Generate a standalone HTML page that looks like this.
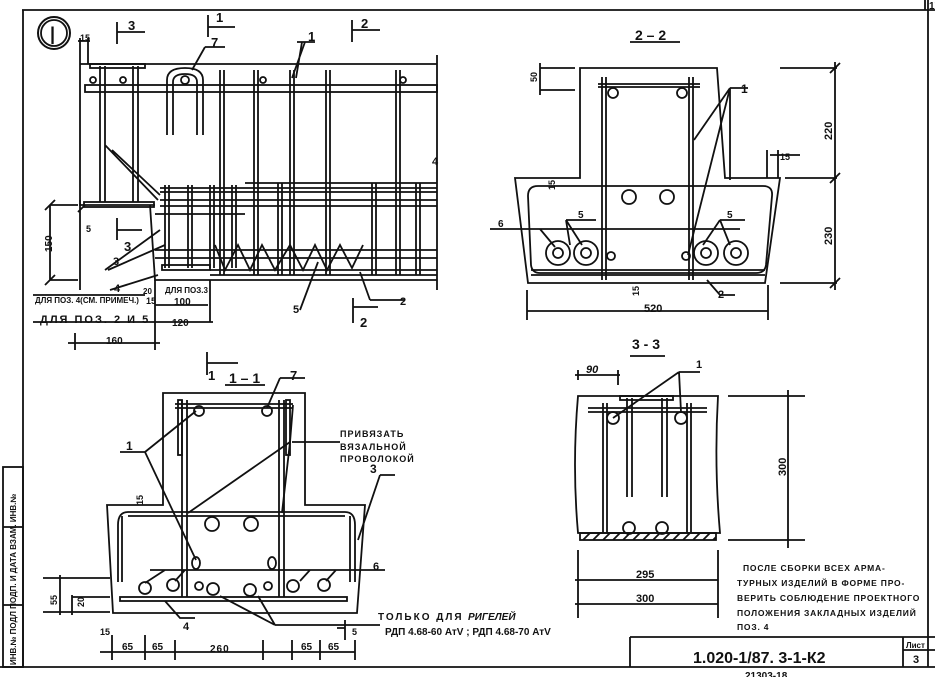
<!DOCTYPE html>
<html><head><meta charset="utf-8"><style>
html,body{margin:0;padding:0;background:#fff}
svg{display:block}
text{font-family:"Liberation Sans Narrow","Liberation Sans","DejaVu Sans",sans-serif;fill:#111;font-weight:bold}
</style></head><body>
<svg width="935" height="677" viewBox="0 0 935 677" xmlns="http://www.w3.org/2000/svg">
<g stroke="#111" stroke-width="1.8" fill="none">
<!-- frame -->
<line x1="22" y1="10" x2="935" y2="10"/>
<line x1="23" y1="10" x2="23" y2="667"/>
<line x1="0" y1="667" x2="935" y2="667"/>
<line x1="928" y1="0" x2="928" y2="667"/>
<line x1="925" y1="0" x2="925" y2="10"/>
<rect x="3" y="467" width="20" height="200"/>
<line x1="3" y1="527" x2="23" y2="527"/><line x1="3" y1="605" x2="23" y2="605"/>

<!-- ELEVATION -->
<circle cx="54" cy="33" r="16" stroke-width="2"/><circle cx="54" cy="33" r="13"/>
<path d="M117 22v22M117 32h28M208 15v22M208 27h27M352 20v22M352 30h28M117 218v22M117 230h25M353 298v25M353 307h25"/>
<path d="M80 64H437M437 55V290M80 64V205H155M150 205L155 280H437"/>
<rect x="85" y="85" width="352" height="7"/>
<rect x="90" y="64" width="55" height="4"/>
<path d="M100 66V202M105 66V202M133 66V202M138 66V202M105 145L158 200M112 150L160 195"/>
<path d="M167 135V80Q167 68 185 68Q203 68 203 80V135M173 135V82Q173 74 185 74Q197 74 197 82V135"/>
<circle cx="185" cy="80" r="4"/><circle cx="93" cy="80" r="3"/><circle cx="123" cy="80" r="3"/><circle cx="263" cy="80" r="3"/><circle cx="403" cy="80" r="3"/>
<path d="M220 70V275M224 70V275M254 70V275M258 70V275M290 70V275M294 70V275M326 70V275M330 70V275M396 70V275M400 70V275"/>
<rect x="84" y="202" width="70" height="5"/>
<path d="M160 188H437M160 192H437M245 183H437M160 200H437M160 206H437M155 214H245M155 250H437M155 258H437M210 270H437M210 275H437"/>
<path d="M165 185V268M169 185V268M188 185V268M192 185V268M210 185V268M214 185V268M232 185V268M236 185V268M278 183V275M282 183V275M372 183V275M376 183V275M416 183V275M420 183V275"/>
<path d="M215 245L225 270L238 245L250 270L262 245L275 270L290 245L303 270L315 245L327 270L340 245L352 268L363 245"/>
<rect x="162" y="265" width="48" height="5"/>
<path d="M297 42H315M305 42L292 78M302 42L296 78M205 47H225M205 47L192 70M105 270L160 230M108 270L165 245M110 290L158 275M300 310L318 262M370 300L360 272M370 300H405"/>
<path d="M78 41H90M80 38V64M88 38V64M80 205V290M80 235V200M50 205H78M50 280H78M50 205V280M45 210L55 200M45 285L55 275M78 212L85 205"/>
<path d="M33 295H145M33 322H155M68 343H160M155 280V345M210 280V322M155 305H208M155 322H213M75 333V350M155 333V350"/>

<!-- SECTION 2-2 -->
<line x1="630" y1="42" x2="680" y2="42"/>
<path d="M580 68H717L725 178H780L765 283H528L515 178H580Z"/>
<path d="M538 186H763Q773 186 772 196L766 265Q765 273 756 273H540Q532 273 531 265L528 196Q528 186 538 186Z"/>
<path d="M531 270H765M531 275H765"/>
<path d="M602 77V280M606 77V280M689 77V280M693 77V280M598 84H700M598 87H700"/>
<circle cx="613" cy="93" r="5"/><circle cx="682" cy="93" r="5"/>
<circle cx="629" cy="197" r="7"/><circle cx="667" cy="197" r="7"/>
<circle cx="558" cy="253" r="12"/><circle cx="558" cy="253" r="5"/>
<circle cx="586" cy="253" r="12"/><circle cx="586" cy="253" r="5"/>
<circle cx="706" cy="253" r="12"/><circle cx="706" cy="253" r="5"/>
<circle cx="736" cy="253" r="12"/><circle cx="736" cy="253" r="5"/>
<circle cx="611" cy="256" r="4"/><circle cx="686" cy="256" r="4"/>
<path d="M490 229H740M540 229L555 247M566 220H596M566 220L570 245M566 220L582 245M720 220H745M720 220L703 245M720 220L730 245M730 88H748M730 88L694 140M730 88L688 255M730 88L730 180M707 280L720 295H735"/>
<path d="M540 68H575M540 90H575M540 63V95M837 68H780M837 178H785M837 283H780M835 62V290M830 73L840 63M830 183L840 173M830 288L840 278M527 311H768M527 290V320M768 285V320M767 150V178M778 150V178M770 155H800"/>

<!-- SECTION 1-1 -->
<path d="M207 352V375M207 363H238M225 385H265"/>
<path d="M163 393H305V505H365L357 613H113L107 505H163Z"/>
<path d="M182 400V597M187 400V597M279 400V597M284 400V597M175 404H293M175 408H293"/>
<rect x="178" y="400" width="4" height="55"/><rect x="286" y="400" width="4" height="55"/>
<circle cx="199" cy="411" r="5"/><circle cx="267" cy="411" r="5"/>
<path d="M128 512H345M128 516H345M128 512Q118 512 118 525V582M345 512Q355 512 355 525V582M122 516Q122 520 122 582M350 516V582"/>
<circle cx="212" cy="524" r="7"/><circle cx="251" cy="524" r="7"/>
<ellipse cx="196" cy="563" rx="4" ry="6"/><ellipse cx="272" cy="563" rx="4" ry="6"/>
<circle cx="145" cy="588" r="6"/><circle cx="173" cy="585" r="6"/><circle cx="199" cy="586" r="4"/><circle cx="213" cy="589" r="6"/><circle cx="250" cy="590" r="6"/><circle cx="268" cy="586" r="4"/><circle cx="293" cy="586" r="6"/><circle cx="324" cy="585" r="6"/>
<rect x="120" y="597" width="227" height="4"/>
<path d="M120 452H145M145 452L196 411M145 452L196 560M292 442H340M290 442L293 405M290 442L188 513M290 442L282 513M380 475L358 540M380 475H395M150 570H385M145 583L165 570M175 581L185 570M300 581L310 570M326 581L336 570M165 601L180 618H195M220 596L275 625M258 596L275 625M275 625H380M280 378H305M280 378L267 408"/>
<path d="M43 578H110M43 612H110M60 575V615M72 597H110M72 595V615M100 652H355M112 635V660M145 635V660M175 640V660M263 640V660M292 640V660M320 640V660M355 640V660M337 628H345M345 620V640"/>

<!-- SECTION 3-3 -->
<line x1="630" y1="356" x2="665" y2="356"/>
<path d="M578 396H718Q714 465 720 533H578Q572 465 578 396Z"/>
<rect x="580" y="533" width="136" height="7"/>
<path d="M583 540L590 533M593 540L600 533M603 540L610 533M613 540L620 533M623 540L630 533M633 540L640 533M643 540L650 533M653 540L660 533M663 540L670 533M673 540L680 533M683 540L690 533M693 540L700 533M703 540L710 533M713 540L716 537"/>
<rect x="620" y="396" width="53" height="4"/>
<path d="M588 408H707M588 412H707M603 403V533M607 403V533M627 398V497M632 398V497M662 398V497M667 398V497M687 403V533M691 403V533"/>
<circle cx="613" cy="418" r="6"/><circle cx="681" cy="418" r="6"/><circle cx="629" cy="528" r="6"/><circle cx="662" cy="528" r="6"/>
<path d="M679 372H700M679 372L613 418M679 372L681 412M575 375H620M578 370V380M618 370V385M728 396H805M728 540H805M788 390V548M575 580H718M575 604H718M578 550V618M718 550V618"/>

<path d="M630 637H935M630 637V667M903 637V667M903 650H935"/>
</g>

<g font-size="13">
<text x="50" y="40" font-size="18" font-weight="normal">|</text>
<text x="128" y="30">3</text><text x="216" y="22">1</text><text x="361" y="28">2</text>
<text x="124" y="251">3</text><text x="360" y="327">2</text><text x="208" y="380">1</text>
<text x="211" y="47">7</text><text x="308" y="41">1</text>
<text x="113" y="265" font-size="11">3</text><text x="114" y="292" font-size="11">4</text>
<text x="293" y="313" font-size="11">5</text><text x="400" y="305" font-size="11">2</text>
<text x="432" y="165" font-size="11" font-weight="normal">4</text>
<text x="80" y="41" font-size="9">15</text><text x="86" y="232" font-size="9">5</text>
<text x="52" y="252" font-size="10" transform="rotate(-90 52 252)">150</text>
<text x="35" y="303" font-size="8">ДЛЯ ПОЗ. 4(СМ. ПРИМЕЧ.)</text>
<text x="143" y="294" font-size="8">20</text><text x="165" y="293" font-size="8">ДЛЯ ПОЗ.3</text>
<text x="146" y="304" font-size="9">15</text><text x="174" y="305" font-size="10">100</text>
<text x="40" y="323" font-size="11" letter-spacing="2">ДЛЯ  ПОЗ. 2 И 5</text>
<text x="172" y="326" font-size="10">120</text><text x="106" y="344" font-size="10">160</text>

<text x="635" y="40" font-size="14" font-weight="normal">2 – 2</text>
<text x="537" y="82" font-size="9" transform="rotate(-90 537 82)">50</text>
<text x="741" y="93" font-size="12">1</text>
<text x="555" y="190" font-size="9" transform="rotate(-90 555 190)">15</text>
<text x="780" y="160" font-size="9">15</text>
<text x="832" y="140" font-size="11" transform="rotate(-90 832 140)" font-weight="normal">220</text>
<text x="832" y="245" font-size="11" transform="rotate(-90 832 245)" font-weight="normal">230</text>
<text x="498" y="227" font-size="10">6</text><text x="578" y="218" font-size="10">5</text><text x="727" y="218" font-size="10">5</text>
<text x="718" y="298" font-size="11">2</text>
<text x="639" y="296" font-size="9" transform="rotate(-90 639 296)">15</text>
<text x="644" y="312" font-size="11" font-weight="normal">520</text>

<text x="229" y="383" font-size="14" font-weight="normal">1 – 1</text>
<text x="290" y="380">7</text><text x="126" y="450" font-size="12">1</text>
<text x="340" y="437" font-size="9" letter-spacing="1">ПРИВЯЗАТЬ</text>
<text x="340" y="450" font-size="9" letter-spacing="1">ВЯЗАЛЬНОЙ</text>
<text x="340" y="462" font-size="9" letter-spacing="1">ПРОВОЛОКОЙ</text>
<text x="370" y="473" font-size="12">3</text><text x="373" y="570" font-size="11">6</text>
<text x="183" y="630" font-size="11">4</text>
<text x="143" y="505" font-size="9" transform="rotate(-90 143 505)">15</text>
<text x="57" y="605" font-size="9" transform="rotate(-90 57 605)">55</text>
<text x="84" y="607" font-size="9" transform="rotate(-90 84 607)">20</text>
<text x="100" y="635" font-size="9">15</text><text x="352" y="635" font-size="9">5</text>
<text x="122" y="650" font-size="10">65</text><text x="152" y="650" font-size="10">65</text>
<text x="210" y="652" font-size="10" letter-spacing="1">260</text>
<text x="301" y="650" font-size="10">65</text><text x="328" y="650" font-size="10">65</text>
<text x="378" y="620" font-size="10" letter-spacing="2">ТОЛЬКО  ДЛЯ</text>
<text x="468" y="620" font-size="10" font-style="italic">РИГЕЛЕЙ</text>
<text x="385" y="635" font-size="10">РДП 4.68-60 АтV ; РДП 4.68-70 АтV</text>

<text x="632" y="349" font-size="14" font-weight="normal">3 - 3</text>
<text x="586" y="373" font-size="11" font-style="italic">90</text><text x="696" y="368" font-size="11">1</text>
<text x="786" y="476" font-size="11" transform="rotate(-90 786 476)" font-weight="normal">300</text>
<text x="636" y="578" font-size="11" font-weight="normal">295</text>
<text x="636" y="602" font-size="11" font-weight="normal">300</text>
<g font-size="8.5" letter-spacing="0.8">
<text x="743" y="571">ПОСЛЕ  СБОРКИ  ВСЕХ  АРМА-</text>
<text x="737" y="586">ТУРНЫХ  ИЗДЕЛИЙ  В  ФОРМЕ  ПРО-</text>
<text x="737" y="601">ВЕРИТЬ  СОБЛЮДЕНИЕ  ПРОЕКТНОГО</text>
<text x="737" y="616">ПОЛОЖЕНИЯ  ЗАКЛАДНЫХ  ИЗДЕЛИЙ</text>
<text x="737" y="630">ПОЗ. 4</text>
</g>
<text x="693" y="663" font-size="16" font-weight="normal">1.020-1/87. 3-1-К2</text>
<text x="906" y="648" font-size="8">Лист</text><text x="913" y="663" font-size="11">3</text>
<text x="929" y="9" font-size="10" font-weight="normal">17</text>
<text x="745" y="679" font-size="10" font-weight="normal">21303-18</text>
<text x="16" y="665" font-size="8" transform="rotate(-90 16 665)">ИНВ.№ ПОДЛ  ПОДП. И ДАТА  ВЗАМ. ИНВ.№</text>
</g>
</svg>
</body></html>
